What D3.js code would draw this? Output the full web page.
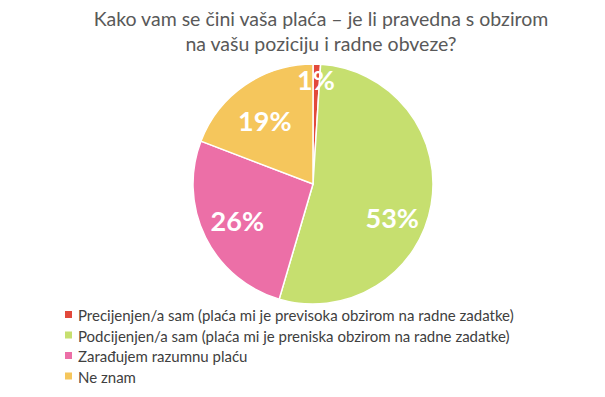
<!DOCTYPE html>
<meta charset="utf-8">
<style>
 body { margin: 0; background: #fff; }
 .title { font: 19.5px Lato, sans-serif; fill: #595959; }
 .label { font: bold 27px Lato, sans-serif; fill: #fff; }
 .legend text { font: 15px Lato, sans-serif; fill: #404040; }
</style>
<svg class="chart"></svg>
<script src="https://cdn.jsdelivr.net/npm/d3@7"></script>
<script>
 var categories = ["Precijenjen/a sam (plaća mi je previsoka obzirom na radne zadatke)",
                   "Podcijenjen/a sam (plaća mi je preniska obzirom na radne zadatke)",
                   "Zarađujem razumnu plaću",
                   "Ne znam"];
 var values = [1, 53, 26, 19];
 var colors = ["#E2493B", "#C6DF6F", "#EC6FA7", "#F5C65C"];

 var width = 605, height = 397;
 var cx = 313, cy = 184, r = 120;

 var svg = d3.select(".chart").attr("width", width).attr("height", height);

 svg.append("text").attr("class", "title").attr("text-anchor", "middle")
    .attr("x", 321).attr("y", 26).text("Kako vam se čini vaša plaća – je li pravedna s obzirom");
 svg.append("text").attr("class", "title").attr("text-anchor", "middle")
    .attr("x", 321).attr("y", 51).text("na vašu poziciju i radne obveze?");

 var pie = d3.pie().sort(null).value(function(d) { return d; });
 var arcs = pie(values);
 var arc = d3.arc().innerRadius(0).outerRadius(r);
 var labelArc = d3.arc().innerRadius(r * 0.62).outerRadius(r * 0.62);

 // nudges so labels sit where the original put them
 var nudge = [[3, 0], [6, 22], [-9, 5], [-6, -1]];

 var g = svg.append("g").attr("transform", "translate(" + cx + "," + cy + ")");

 g.selectAll("path").data(arcs).enter().append("path")
  .attr("d", arc)
  .attr("fill", function(d, i) { return colors[i]; })
  .attr("stroke", "#fff").attr("stroke-width", 1.5);

 g.selectAll(".label").data(arcs).enter().append("text")
  .attr("class", "label")
  .attr("text-anchor", "middle")
  .attr("dy", "0.35em")
  .attr("transform", function(d, i) {
      var c = labelArc.centroid(d);
      if (i == 0) { c = [0, -r * 0.86]; }
      return "translate(" + (c[0] + nudge[i][0]) + "," + (c[1] + nudge[i][1]) + ")";
  })
  .text(function(d) { return d.data + "%"; });

 var legend = svg.append("g").attr("class", "legend")
   .selectAll("g").data(categories).enter().append("g")
   .attr("transform", function(d, i) { return "translate(65," + (316 + i * 20.5) + ")"; });

 legend.append("rect").attr("x", 0).attr("y", -5).attr("width", 7).attr("height", 7)
   .attr("fill", function(d, i) { return colors[i]; });
 legend.append("text").attr("x", 13).attr("y", 0).attr("dy", "0.35em")
   .text(function(d) { return d; });
</script>
